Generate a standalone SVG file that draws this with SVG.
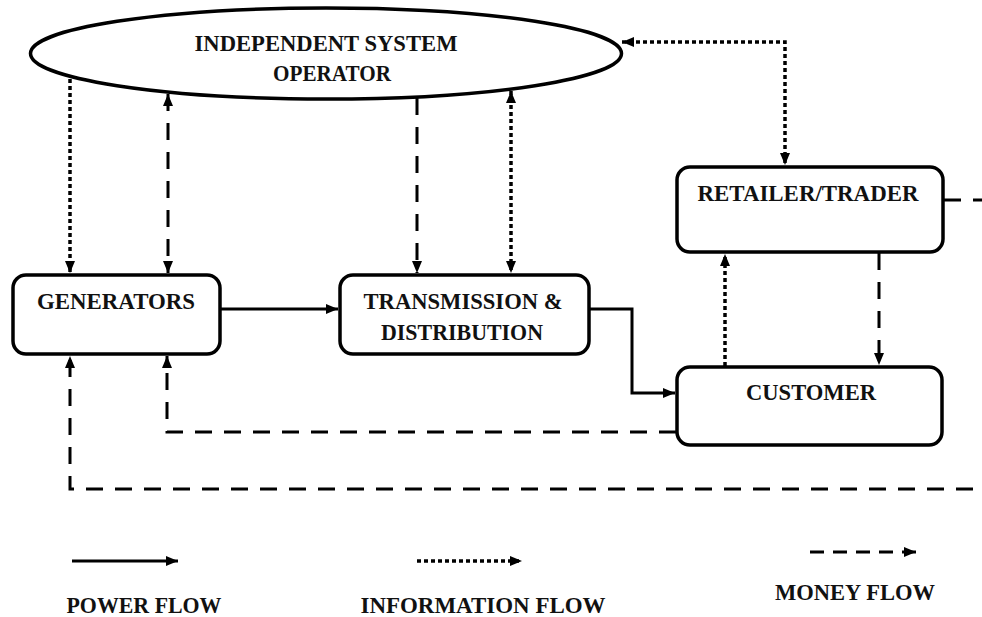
<svg xmlns="http://www.w3.org/2000/svg" width="982" height="617" viewBox="0 0 982 617">
<style>
.node{fill:#fff;stroke:#000;stroke-width:3.5}
.t{font-family:"Liberation Serif","Times New Roman",serif;font-weight:bold;font-size:24px;fill:#111;text-anchor:middle}
.c{fill:none;stroke:#000;stroke-width:3}
.dot{stroke-dasharray:4 3;stroke-width:3.5}
.dash{stroke-dasharray:17 12}
</style>
<defs>
<marker id="ah" viewBox="0 0 12 10" refX="12" refY="5" markerWidth="12" markerHeight="10" markerUnits="userSpaceOnUse" orient="auto-start-reverse">
<path d="M0,0 L12,5 L0,10 Z" fill="#000"/>
</marker>
</defs>
<rect width="982" height="617" fill="#fff"/>
<g id="iso">
<ellipse class="node" cx="326" cy="53.5" rx="295.5" ry="45.5"/>
<text class="t" x="326" y="51" textLength="263" lengthAdjust="spacingAndGlyphs">INDEPENDENT SYSTEM</text>
<text class="t" x="332" y="81" textLength="118" lengthAdjust="spacingAndGlyphs">OPERATOR</text>
</g>
<g id="generators">
<rect class="node" x="13" y="275" width="207" height="79" rx="13"/>
<text class="t" x="116" y="309" textLength="158" lengthAdjust="spacingAndGlyphs">GENERATORS</text>
</g>
<g id="transmission">
<rect class="node" x="340" y="275" width="249" height="79" rx="13"/>
<text class="t" x="463" y="309" textLength="199" lengthAdjust="spacingAndGlyphs">TRANSMISSION &amp;</text>
<text class="t" x="462" y="340" textLength="162" lengthAdjust="spacingAndGlyphs">DISTRIBUTION</text>
</g>
<g id="retailer">
<rect class="node" x="677" y="167" width="266" height="85" rx="13"/>
<text class="t" x="808" y="201" textLength="221" lengthAdjust="spacingAndGlyphs">RETAILER/TRADER</text>
</g>
<g id="customer">
<rect class="node" x="677" y="367" width="265" height="78" rx="13"/>
<text class="t" x="811" y="400" textLength="130" lengthAdjust="spacingAndGlyphs">CUSTOMER</text>
</g>
<g id="connectors">
<path class="c dot" d="M70,79 V273" marker-end="url(#ah)"/>
<path class="c dash" d="M168,94 V273" marker-start="url(#ah)" marker-end="url(#ah)"/>
<path class="c dash" d="M417,98 V273" marker-end="url(#ah)"/>
<path class="c dot" d="M511,91 V273" marker-start="url(#ah)" marker-end="url(#ah)"/>
<path class="c dot" d="M622,42 H785 V165" marker-start="url(#ah)" marker-end="url(#ah)"/>
<path class="c" d="M221,309 H338" marker-end="url(#ah)"/>
<path class="c" d="M590,309 H632 V393 H675" marker-end="url(#ah)"/>
<path class="c dot" d="M725,366 V254" marker-end="url(#ah)"/>
<path class="c dash" d="M879,253 V365" marker-end="url(#ah)"/>
<path class="c dash" d="M676,432 H167 V356" marker-end="url(#ah)"/>
<path class="c dash" d="M944,200 H988 V489 H70 V356" marker-end="url(#ah)"/>
</g>
<g id="legend">
<path class="c" d="M72,561 H178" marker-end="url(#ah)"/>
<path class="c dot" d="M417,561 H522" marker-end="url(#ah)"/>
<path class="c dash" d="M810,552 H916" marker-end="url(#ah)" style="stroke-dasharray:14 9"/>
<text class="t" x="144" y="613" textLength="155" lengthAdjust="spacingAndGlyphs">POWER FLOW</text>
<text class="t" x="483" y="613" textLength="245" lengthAdjust="spacingAndGlyphs">INFORMATION FLOW</text>
<text class="t" x="855" y="600" textLength="160" lengthAdjust="spacingAndGlyphs">MONEY FLOW</text>
</g>
</svg>
